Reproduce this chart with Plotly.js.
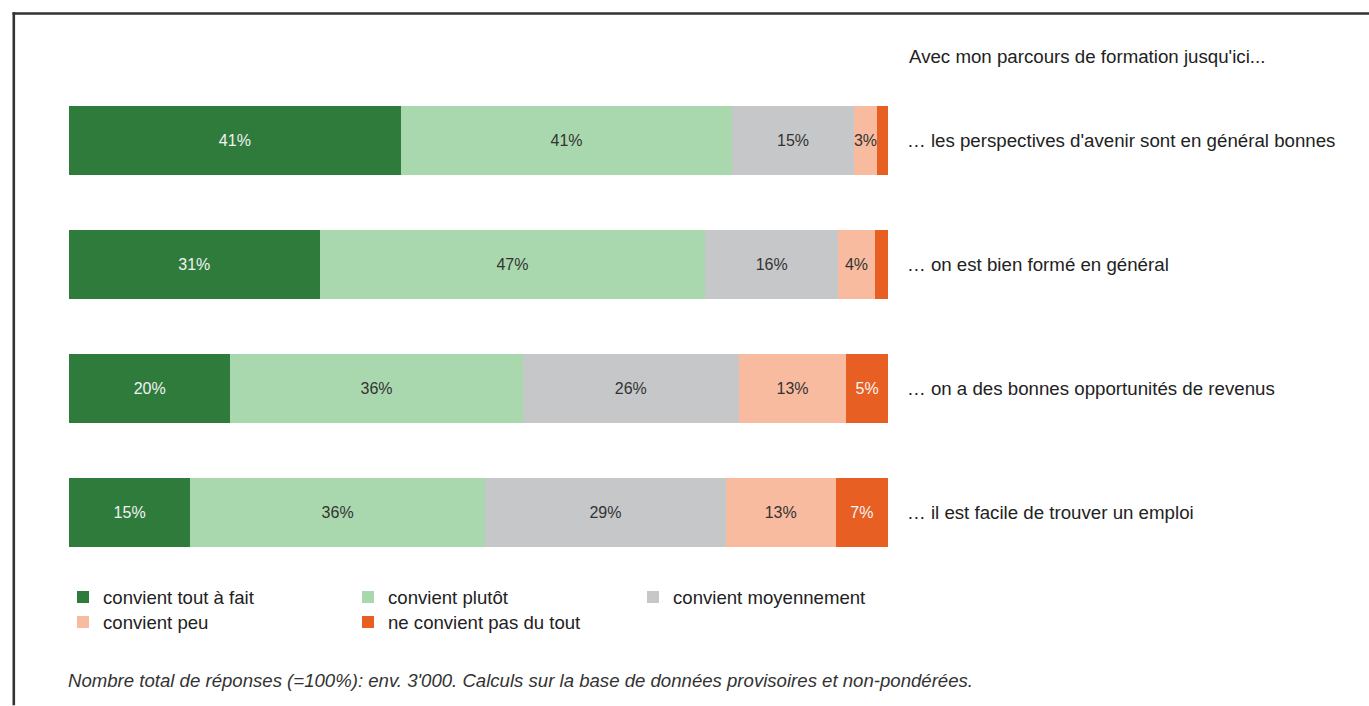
<!DOCTYPE html>
<html>
<head>
<meta charset="utf-8">
<script src="https://cdn.plot.ly/plotly-3.0.1.min.js"></script>
<style>
  html, body { margin: 0; padding: 0; background: #fff; }
  #chart { width: 1369px; height: 706px; }
</style>
</head>
<body>
<div id="chart"></div>
<script>
// ---- Data ----
const categories = [
  "… les perspectives d'avenir sont en général bonnes",
  "… on est bien formé en général",
  "… on a des bonnes opportunités de revenus",
  "… il est facile de trouver un emploi"
];
const seriesNames = [
  "convient tout à fait",
  "convient plutôt",
  "convient moyennement",
  "convient peu",
  "ne convient pas du tout"
];
const toutAFait      = [40.5, 30.6, 19.7, 14.8];
const plutot         = [40.5, 47.1, 35.7, 36.0];
const moyennement    = [14.8, 16.2, 26.4, 29.4];
const peu            = [ 2.9,  4.5, 13.1, 13.4];
const pasDuTout      = [ 1.3,  1.6,  5.1,  6.4];

const labelsToutAFait   = ["41%", "31%", "20%", "15%"];
const labelsPlutot      = ["41%", "47%", "36%", "36%"];
const labelsMoyennement = ["15%", "16%", "26%", "29%"];
const labelsPeu         = ["3%", "4%", "13%", "13%"];
const labelsPasDuTout   = ["", "", "5%", "7%"];

const titleText = "Avec mon parcours de formation jusqu'ici...";
const footnote = "Nombre total de réponses (=100%): env. 3'000. Calculs sur la base de données provisoires et non-pondérées.";

// ---- Styles ----
const FONT = "'Liberation Sans', Arial, sans-serif";
const colors = ["#2f7b3c", "#aad8ae", "#c6c7c9", "#f8bb9f", "#e75f22"];
const textColors = ["#f2f2f2", "#333333", "#333333", "#333333", "#f5f5f5"];
const values = [toutAFait, plutot, moyennement, peu, pasDuTout];
const labels = [labelsToutAFait, labelsPlutot, labelsMoyennement, labelsPeu, labelsPasDuTout];

const traces = seriesNames.map((name, i) => ({
  type: "bar",
  orientation: "h",
  name: name,
  y: categories,
  x: values[i],
  text: labels[i],
  textposition: "inside",
  insidetextanchor: "middle",
  textangle: 0,
  constraintext: "none",
  textfont: { family: FONT, size: 16, color: textColors[i] },
  marker: { color: colors[i], line: { width: 0 } },
  hoverinfo: "skip",
  legend: i < 3 ? "legend" : "legend2"
}));

// pixel helpers for placement of non-data elements
const L = 69, R = 481, T = 78.5, B = 131.5, W = 1369, H = 706;
const pw = W - L - R, ph = H - T - B;
const px = x => (x - L) / pw;
const py = y => (H - B - y) / ph;

const annotations = categories.map(c => ({
  xref: "paper", yref: "y", x: px(905), y: c,
  xanchor: "left", yanchor: "middle",
  text: c, showarrow: false,
  font: { family: FONT, size: 18.7, color: "#222" }
}));
annotations.push({
  xref: "paper", yref: "paper", x: px(907), y: py(56),
  xanchor: "left", yanchor: "middle",
  text: titleText, showarrow: false,
  font: { family: FONT, size: 18.7, color: "#222" }
});
annotations.push({
  xref: "paper", yref: "paper", x: px(66), y: py(681),
  xanchor: "left", yanchor: "middle",
  text: "<i>" + footnote + "</i>", showarrow: false,
  font: { family: FONT, size: 18.6, color: "#333" }
});

const legendCommon = {
  orientation: "h",
  xref: "paper", yref: "paper",
  xanchor: "left", yanchor: "middle",
  entrywidth: 240, entrywidthmode: "pixels",
  font: { family: FONT, size: 18.6, color: "#222" },
  bgcolor: "rgba(0,0,0,0)",
  itemclick: false, itemdoubleclick: false,
  traceorder: "normal"
};

const layout = {
  width: W, height: H,
  margin: { l: L, r: R, t: T, b: B, pad: 0 },
  barmode: "stack",
  bargap: 0.444,
  paper_bgcolor: "#ffffff",
  plot_bgcolor: "#ffffff",
  font: { family: FONT },
  xaxis: { range: [0, 100], visible: false, fixedrange: true },
  yaxis: { autorange: "reversed", showticklabels: false, showgrid: false, zeroline: false, showline: false, ticks: "", fixedrange: true },
  showlegend: true,
  legend: Object.assign({}, legendCommon, { x: px(63), y: py(598) }),
  legend2: Object.assign({}, legendCommon, { x: px(63), y: py(623) }),
  annotations: annotations,
  shapes: [
    { type: "line", xref: "paper", yref: "paper", x0: px(12.5), x1: px(1369), y0: py(12.8), y1: py(12.8), line: { color: "#333", width: 2.6 } },
    { type: "line", xref: "paper", yref: "paper", x0: px(13.8), x1: px(13.8), y0: py(11.5), y1: py(706), line: { color: "#333", width: 2.6 } }
  ]
};

Plotly.newPlot("chart", traces, layout, { displayModeBar: false, staticPlot: true });
</script>
</body>
</html>
